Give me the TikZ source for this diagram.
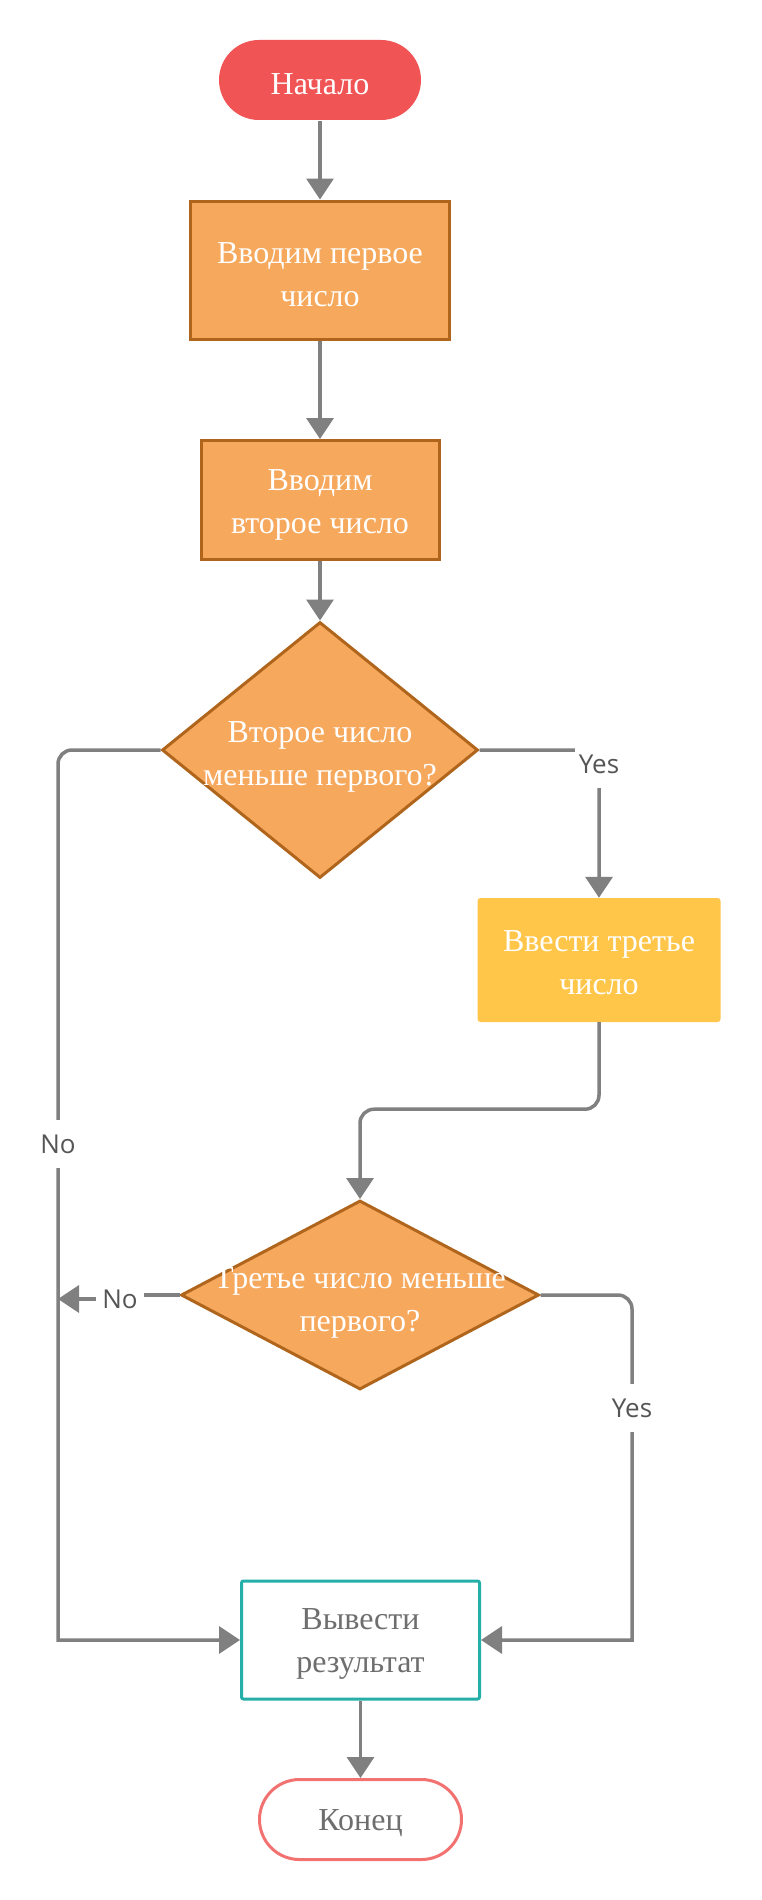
\documentclass[tikz,border=0pt]{standalone}
\usepackage{fontspec}
\setmainfont{Liberation Serif}
\newfontfamily\edgefont{Open Sans}
\usetikzlibrary{arrows.meta,shapes.geometric}

\definecolor{startred}{RGB}{240,84,84}
\definecolor{procfill}{RGB}{246,168,93}
\definecolor{procedge}{RGB}{176,101,29}
\definecolor{thirdyellow}{RGB}{255,198,74}
\definecolor{outteal}{RGB}{38,174,168}
\definecolor{endsalmon}{RGB}{242,113,113}
\definecolor{linegray}{RGB}{128,128,128}
\definecolor{labelgray}{RGB}{85,85,85}
\definecolor{textgray}{RGB}{110,110,110}

\begin{document}
\begin{tikzpicture}[x=1pt,y=-1pt,
  boxtext/.style={font=\fontsize{32}{43}\selectfont, align=center},
  terminal/.style={rectangle, rounded corners=40pt, minimum width=202pt,
    minimum height=80pt, line width=3pt, boxtext, inner sep=0pt},
  procbox/.style={rectangle, draw=procedge, fill=procfill, line width=3pt,
    inner sep=0pt},
  decision/.style={diamond, draw=procedge, fill=procfill, line width=3pt,
    inner sep=0pt},
  caption/.style={boxtext, inner sep=0pt},
  flow/.style={draw=linegray, line width=3.5pt,
    -{Triangle[length=21pt,width=27pt]}},
  edgelabel/.style={fill=white, font=\edgefont\fontsize{26}{28}\selectfont,
    text=labelgray, inner sep=0pt, minimum width=48pt, minimum height=48pt},
]
\useasboundingbox[fill=white] (0,0) rectangle (761,1900);

% blocks
\node[terminal, fill=startred] (start) at (320,80) {};
\node[caption, text=white] (startt) at (320,84) {Начало};
\node[procbox, minimum width=259pt, minimum height=138pt] (in1) at (320,270) {};
\node[caption, text=white] (in1t) at (320,275) {Вводим первое\\число};
\node[procbox, minimum width=238pt, minimum height=119pt] (in2) at (320,500) {};
\node[caption, text=white] (in2t) at (320,505) {Вводим\\второе число};
\node[decision, minimum width=316pt, minimum height=256pt] (q1) at (320,750) {};
\node[caption, text=white] (q1t) at (320,757) {Второе число\\меньше первого?};
\node[rectangle, fill=thirdyellow, rounded corners=3pt, minimum width=243pt,
  minimum height=124pt] (in3) at (599,960) {};
\node[caption, text=white] (in3t) at (599,963) {Ввести третье\\число};
\node[decision, minimum width=358pt, minimum height=189pt] (q2) at (360,1295) {};
\node[caption, text=white] (q2t) at (360,1303) {Третье число меньше\\первого?};
\node[rectangle, draw=outteal, fill=white, line width=3pt, rounded corners=2pt,
  minimum width=238pt, minimum height=118pt] (out) at (360.5,1640) {};
\node[caption, text=textgray] (outt) at (360.5,1644) {Вывести\\результат};
\node[terminal, draw=endsalmon, fill=white] (end) at (360.5,1819.5) {};
\node[caption, text=textgray] (endt) at (360.5,1823) {Конец};

% bend points of the side rails and the short "No" branch
\coordinate (leftbot) at (58,1640);
\coordinate (rightbot) at (632,1640);
\coordinate (nostep) at (120,1299);
\coordinate (nojoin) at (58,1299);

% connectors
\draw[flow] (start.south) -- (in1.north);
\draw[flow] (in1.south) -- (in2.north);
\draw[flow] (in2.south) -- (q1.north);
\draw[flow, rounded corners=14pt] (q1.east) -| (in3.north);
\draw[flow, rounded corners=14pt] (in3.south) -- ++(0,87) -| (q2.north);
\draw[flow] (q1.west) [rounded corners=14pt] -- (q1.west -| leftbot)
  [sharp corners] -- (leftbot) -- (out.west);
\draw[flow] (q2.west) -- (q2.west -| nostep) -- (nostep) -- (nojoin);
\draw[flow] (q2.east) [rounded corners=14pt] -- (q2.east -| rightbot)
  [sharp corners] -- (rightbot) -- (out.east);
\draw[flow] (out.south) -- (end.north);

% branch labels
\node[edgelabel] (yes1) at (599,764) {Yes};
\node[edgelabel] (no1) at (58,1144) {No};
\node[edgelabel] (no2) at (120,1299) {No};
\node[edgelabel] (yes2) at (632,1408) {Yes};
\end{tikzpicture}
\end{document}
